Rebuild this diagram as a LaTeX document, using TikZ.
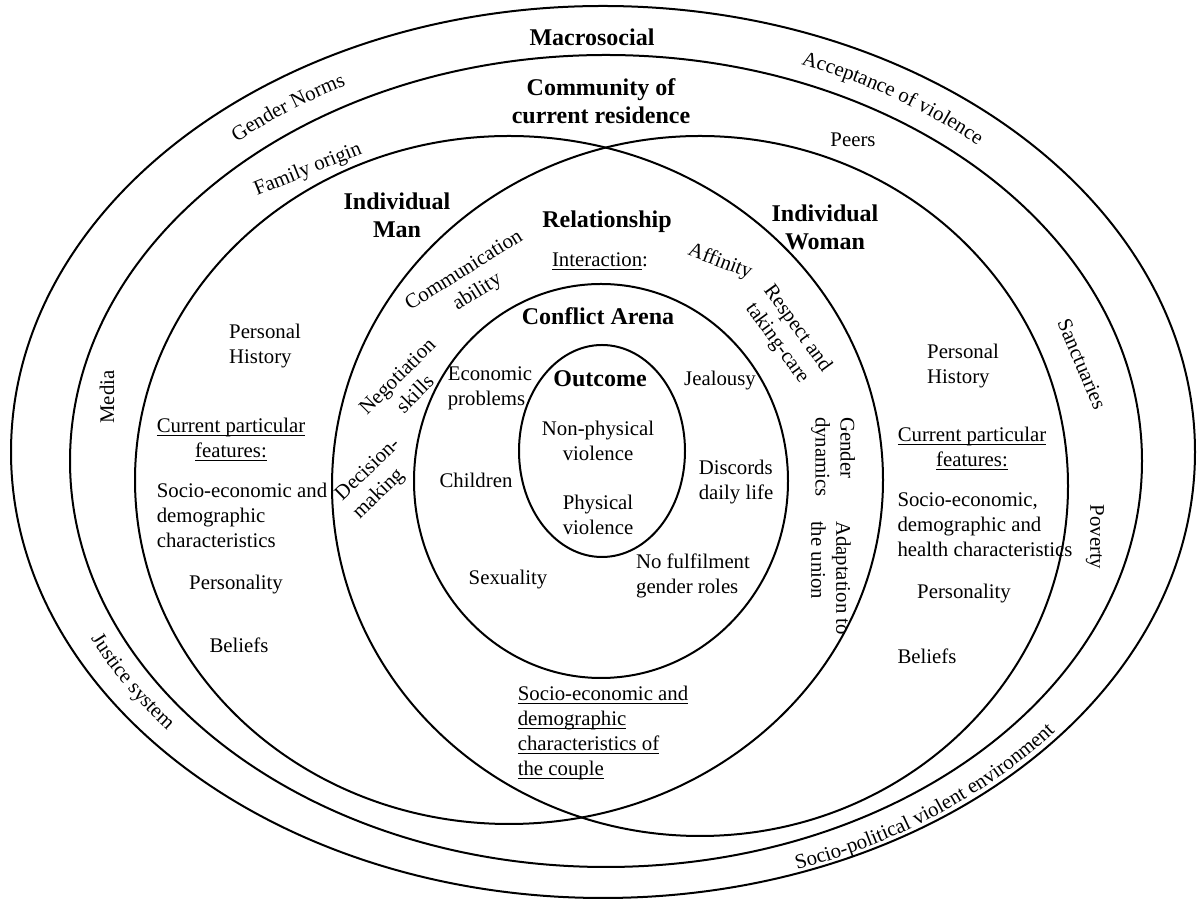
\documentclass[tikz,border=0pt]{standalone}
\usepackage{fontspec}
\setmainfont{Liberation Serif}
\usetikzlibrary{decorations.text}
\newcommand{\bodysize}{\fontsize{10.4}{12.5}\selectfont}
\newcommand{\uln}[1]{\underline{\smash{#1}}}
\tikzset{
  ring/.style={draw, line width=1pt},
  txt/.style={font=\bodysize, inner sep=0pt},
  txtl/.style={txt, align=left},
  txtc/.style={txt, align=center},
  head/.style={font=\fontsize{12}{14}\selectfont\bfseries, align=center, inner sep=0pt},
  arclabel/.style={decorate, decoration={text along path, text align=center, text={|\bodysize|#1}}}
}

\begin{document}
\begin{tikzpicture}[x=0.5pt, y=0.5pt]
\useasboundingbox (0,0) rectangle (1200,904);
% centres of the layers
\coordinate (macroC) at (603,452);
\coordinate (commC) at (606,443);
\coordinate (manC) at (509,424);
\coordinate (womanC) at (700,418);
\coordinate (arenaC) at (601,423);
\coordinate (outC) at (602,453);
\coordinate (midC) at (604,448);

% layers
\draw[ring] (macroC) ellipse [x radius=592, y radius=446];
\draw[ring] (commC) ellipse [x radius=536, y radius=406];
\draw[ring] (manC) ellipse [x radius=374, y radius=344];
\draw[ring] (womanC) ellipse [x radius=368, y radius=350];
\draw[ring] (arenaC) ellipse [x radius=187, y radius=197];
\draw[ring] (outC) ellipse [x radius=83, y radius=106];

% macrosocial
\node[head] (macroLbl) at (592,867) {Macrosocial};
\path[arclabel={Gender Norms}] (midC) ++(149:556 and 418)
  arc [start angle=149, end angle=102, x radius=556, y radius=418];
\path[arclabel={Acceptance of violence}] (midC) ++(84:557 and 419)
  arc [start angle=84, end angle=31, x radius=557, y radius=419];
\path[arclabel={Justice system}] (midC) ++(190:567 and 430)
  arc [start angle=190, end angle=233, x radius=567, y radius=430];
\path[arclabel={Socio-political violent environment}] (midC) ++(-83:579 and 439)
  arc [start angle=-83, end angle=-24, x radius=579, y radius=439];

% community
\node[head] (commLbl) at (601,803) {Community of\\current residence};
\node[txt, rotate=22] (famOrig) at (308,734) {Family origin};
\node[txt] (peers) at (853,764) {Peers};
\node[txt, rotate=90] (media) at (107,507) {Media};
\node[txt, rotate=-67] (sanct) at (1082,540) {Sanctuaries};
\node[txt, rotate=-90] (poverty) at (1095,367) {Poverty};

% individual man
\node[head] (manLbl) at (397,689) {Individual\\Man};
\node[txtl] (manHist) at (265,558) {Personal\\History};
\node[txtc] (manFeat) at (231,457) {\uln{Current particular}\\\uln{features:}};
\node[txtl] (manSocio) at (242,389) {Socio-economic and\\demographic\\characteristics};
\node[txt] (manPers) at (236,319) {Personality};
\node[txt] (manBel) at (239,259) {Beliefs};

% individual woman
\node[head] (womanLbl) at (825,677) {Individual\\Woman};
\node[txtl] (womHist) at (963,538) {Personal\\History};
\node[txtc] (womFeat) at (972,448) {\uln{Current particular}\\\uln{features:}};
\node[txtl] (womSocio) at (985,379) {Socio-economic,\\demographic and\\health characteristics};
\node[txt] (womPers) at (964,310) {Personality};
\node[txt] (womBel) at (927,248) {Beliefs};

% relationship
\node[head] (relLbl) at (607,682) {Relationship};
\node[txt, anchor=base] (interLbl) at (600,637) {\uln{Interaction}:};
\node[txtc, rotate=32] (commAb) at (471,622) {Communication\\ability};
\node[txtc, rotate=45] (negot) at (406,519) {Negotiation\\skills};
\node[txtl, rotate=44] (decis) at (377,425) {Decision-\\making};
\node[txt, rotate=-21] (affin) at (720,642) {Affinity};
\node[txtc, rotate=-54] (respect) at (787,568) {Respect and\\taking-care};
\node[txtl, rotate=-90] (gendDyn) at (833,447) {Gender\\dynamics};
\node[txtl, rotate=-90] (adapt) at (831,326) {Adaptation to\\the union};
\node[txtl] (couple) at (603,164) {\uln{Socio-economic and}\\\uln{demographic}\\\uln{characteristics of}\\\uln{the couple}};

% conflict arena
\node[head] (arenaLbl) at (598,588) {Conflict Arena};
\node[txtl] (econ) at (490,516) {Economic\\problems};
\node[txt] (jeal) at (720,523) {Jealousy};
\node[txt] (child) at (476,424) {Children};
\node[txtl] (discord) at (736,422) {Discords\\daily life};
\node[txt] (sexual) at (508,324) {Sexuality};
\node[txtl] (nofulf) at (693,328) {No fulfilment\\gender roles};

% outcome
\node[head] (outLbl) at (600,525) {Outcome};
\node[txtc] (nonphys) at (598,463) {Non-physical\\violence};
\node[txtc] (phys) at (598,389) {Physical\\violence};
\end{tikzpicture}
\end{document}
